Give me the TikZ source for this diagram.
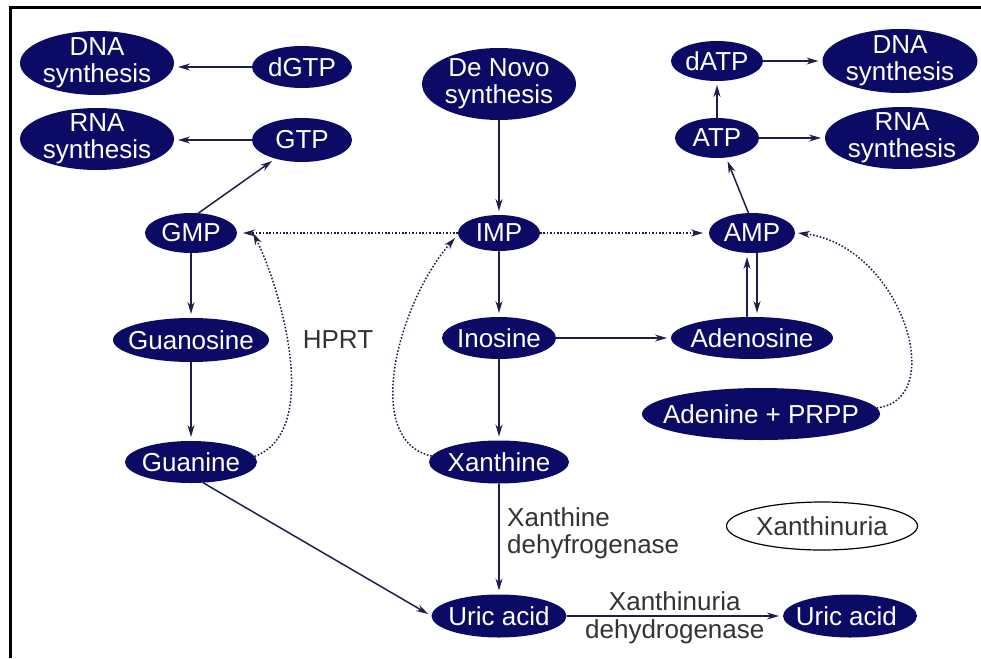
\documentclass[tikz,border=0pt]{standalone}
\usepackage{fontspec}
\setmainfont{Liberation Sans}
\usepackage{tikz}
\usetikzlibrary{
arrows.meta,
shapes.geometric
}
\definecolor{PurineNavy}{HTML}{0B0B66}
\definecolor{PurineLine}{HTML}{1E1E4A}
\definecolor{PurineText}{HTML}{333333}

\begin{document}
\begin{tikzpicture}[x=1pt, y=-1pt,
        every node/.style={font=\fontsize{26}{27}\selectfont},
        mol/.style={ellipse, fill=PurineNavy, inner sep=0pt, outer sep=0pt},
        every label/.style={text=white, align=center, inner sep=0pt},
        flow/.style={draw=PurineLine, line width=1.5pt, -{Stealth[length=12pt,width=7pt]}, shorten >=4pt},
        dotflow/.style={flow, dash pattern=on 1.6pt off 1.8pt, shorten >=6pt},
        dotarc/.style={dotflow, shorten >=0pt},
        note/.style={text=PurineText, inner sep=1pt}]
        \useasboundingbox (0,0) rectangle (981,658);
        \draw[line width=3pt] (10,658) -- (10,8) -- (981,8);

        \foreach \name/\x/\y/\w/\h/\txt in {
            dnaL/97/63/154/64/{DNA\\synthesis},
            rnaL/97/139/154/62/{RNA\\synthesis},
            dgtp/302/67/100/42/dGTP,
            gtp/302/140/100/44/GTP,
            gmp/191/233/92/40/GMP,
            denovo/499/84/154/72/{De Novo\\synthesis},
            imp/499/233/82/36/IMP,
            datp/717/61/92/40/dATP,
            dnaR/900/61/155/64/{DNA\\synthesis},
            atp/717/138/84/40/ATP,
            rnaR/902/138/154/62/{RNA\\synthesis},
            amp/752/233/86/40/AMP,
            guanosine/191/340/156/44/Guanosine,
            inosine/499/338/114/42/Inosine,
            adenosine/752/338/162/42/Adenosine,
            adenine/761/414/238/52/{Adenine + PRPP},
            guanine/191/462/132/42/Guanine,
            xanthine/499/462/140/43/Xanthine,
            uricL/499/616/135/43/{Uric acid},
            uricR/850/616/134/43/{Uric acid}
        }{
            \node[mol, minimum width=\w, minimum height=\h, label={center:\txt}] (\name) at (\x,\y) {};
        }

        \node[ellipse, draw=black, line width=1.2pt, text=PurineText, inner sep=0pt, minimum width=191, minimum height=48] (xanthinuria) at (822,526) {Xanthinuria};
        \node[note] (hprt) at (338,340) {HPRT};
        \node[note, align=left, anchor=west] (xdh) at (506,533) {Xanthine\\dehyfrogenase};

        \foreach \a/\b in {gmp/guanosine, guanosine/guanine, denovo/imp, imp/inosine,
            inosine/xanthine, xanthine/uricL, inosine/adenosine, atp/datp, datp/dnaR, atp/rnaR}
            \draw[flow] (\a) -- (\b);

        \draw[flow] (dgtp.west) -- (dgtp.west -| dnaL.east);
        \draw[flow] (gtp.west) -- (gtp.west -| rnaL.east);
        \draw[flow] (gmp.70) -- (gtp.215);
        \draw[flow] (guanine.-60) -- (uricL.west);
        \draw[flow] (amp.100) -- (atp.-65);
        \draw[flow] ([xshift=-5pt]adenosine.north) -- ([xshift=-5pt]adenosine.north |- amp.south);
        \draw[flow] ([xshift=5pt]amp.south) -- ([xshift=5pt]amp.south |- adenosine.north);
        \draw[flow] (uricL) -- node[note, above=4pt] (xnote) {Xanthinuria} node[note, below=2pt] (dnote) {dehydrogenase} (uricR);

        \draw[dotflow] (imp.west) -- (gmp.east);
        \draw[dotflow] (imp.east) -- (amp.west);
        \draw[dotarc] (guanine.5) .. controls (325,430) and (277,280) .. ([xshift=16pt]gmp.east);
        \draw[dotarc] (xanthine.175) .. controls (360,440) and (400,300) .. ([xshift=-3pt,yshift=-5pt]imp.west);
        \draw[dotarc] (adenine.3) .. controls (950,400) and (900,245) .. ([xshift=3pt]amp.east);
    \end{tikzpicture}
\end{document}
